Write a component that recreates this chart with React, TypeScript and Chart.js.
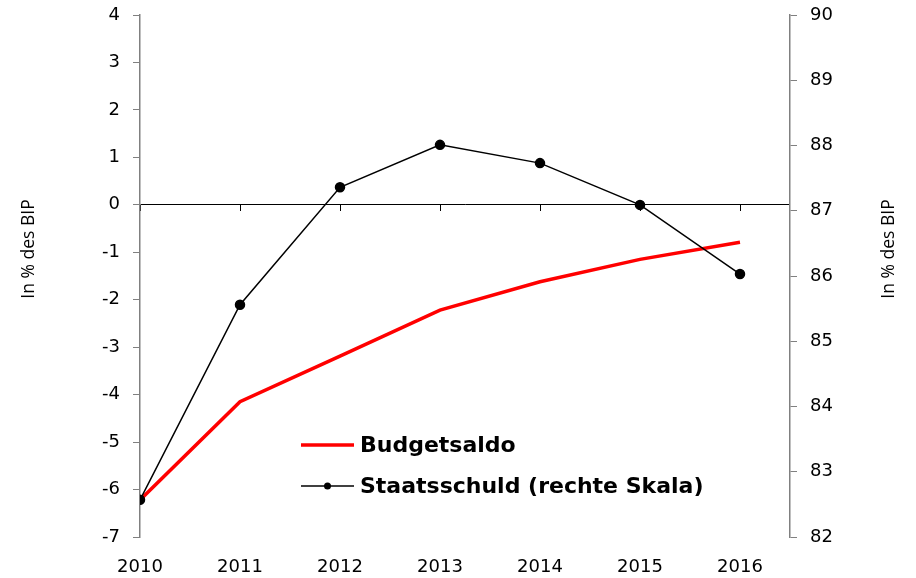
import React, { useEffect, useRef } from "react";
import { Chart, registerables } from "chart.js";

Chart.register(...registerables);

const years = [2010, 2011, 2012, 2013, 2014, 2015, 2016];
const budgetsaldo = [-6.22, -4.15, -3.19, -2.22, -1.62, -1.15, -0.79];
const staatsschuld = [82.57, 85.56, 87.36, 88.01, 87.73, 87.09, 86.03];
const seriesLabels = ["Budgetsaldo", "Staatsschuld (rechte Skala)"];
const axisTitle = "In % des BIP";

const TICK_FONT = { family: "DejaVu Sans", size: 18 };

const overlayPlugin = {
  id: "overlay",
  afterDraw(chart: any) {
    const ctx = chart.ctx;
    ctx.save();
    // axis titles
    ctx.fillStyle = "#000";
    ctx.font = "17.5px 'Open Sans'";
    ctx.textAlign = "center";
    ctx.textBaseline = "middle";
    ctx.save();
    ctx.translate(29, 249);
    ctx.rotate(-Math.PI / 2);
    ctx.fillText(axisTitle, 0, 0);
    ctx.restore();
    ctx.save();
    ctx.translate(889, 249);
    ctx.rotate(-Math.PI / 2);
    ctx.fillText(axisTitle, 0, 0);
    ctx.restore();

    // legend
    const ds = chart.data.datasets;
    ctx.font = "bold 22px 'DejaVu Sans'";
    ctx.textAlign = "left";
    const rows = [445, 486];
    rows.forEach((y, i) => {
      const d = ds[i];
      ctx.strokeStyle = d.borderColor;
      ctx.lineWidth = d.borderWidth;
      ctx.beginPath();
      ctx.moveTo(301, y);
      ctx.lineTo(354, y);
      ctx.stroke();
      if (d.pointRadius > 0) {
        ctx.fillStyle = d.pointBackgroundColor;
        ctx.beginPath();
        ctx.arc(327.5, y, d.pointRadius - 1, 0, Math.PI * 2);
        ctx.fill();
      }
      ctx.fillStyle = "#000";
      ctx.fillText(d.label, 360, y + 1);
    });
    ctx.restore();
  },
};

export default function App() {
  const ref = useRef<HTMLCanvasElement | null>(null);
  useEffect(() => {
    if (!ref.current) return;
    const chart = new Chart(ref.current, {
      type: "line",
      data: {
        datasets: [
          {
            label: seriesLabels[0],
            data: years.map((x, i) => ({ x, y: budgetsaldo[i] })),
            borderColor: "#ff0000",
            backgroundColor: "#ff0000",
            borderWidth: 3.5,
            pointRadius: 0,
            yAxisID: "y",
            tension: 0,
            order: 2,
          },
          {
            label: seriesLabels[1],
            data: years.map((x, i) => ({ x, y: staatsschuld[i] })),
            borderColor: "#000000",
            backgroundColor: "#000000",
            pointBackgroundColor: "#000000",
            pointBorderColor: "#000000",
            borderWidth: 1.5,
            pointRadius: 4.5,
            yAxisID: "y1",
            tension: 0,
            order: 1,
          },
        ],
      },
      options: {
        animation: false,
        responsive: false,
        maintainAspectRatio: false,
        layout: { padding: { top: 15, left: 0, right: 0, bottom: 0 } },
        plugins: {
          legend: { display: false },
          tooltip: { enabled: false },
        },
        scales: {
          x: {
            type: "linear",
            min: 2010,
            max: 2016.5,
            grid: { display: false },
            border: { display: false },
            ticks: {
              stepSize: 1,
              includeBounds: false,
              color: "#000",
              font: TICK_FONT,
              padding: 12,
              maxRotation: 0,
              callback: (v: any) => String(v),
            },
            afterFit: (s: any) => {
              s.height = 41;
              s.paddingLeft = 0;
              s.paddingRight = 0;
            },
          },
          xZero: {
            type: "linear",
            axis: "x",
            position: { y: 0 },
            min: 2010,
            max: 2016.5,
            grid: {
              drawOnChartArea: false,
              drawTicks: true,
              tickLength: 6,
              tickColor: "#000",
              lineWidth: 1,
            },
            border: { display: false },
            ticks: {
              display: false,
              stepSize: 1,
              includeBounds: false,
            },
          },
          y: {
            type: "linear",
            position: "left",
            min: -7,
            max: 4,
            grid: {
              color: (c: any) => (c.tick && c.tick.value === 0 ? "#000" : "rgba(0,0,0,0)"),
              tickColor: "#808080",
              lineWidth: 1,
              tickLength: 7,
              drawOnChartArea: true,
            },
            border: { color: "#808080", width: 1.5 },
            ticks: {
              stepSize: 1,
              color: "#000",
              font: TICK_FONT,
              padding: 13,
            },
            afterFit: (s: any) => {
              s.width = 140;
              s.paddingTop = 0;
              s.paddingBottom = 0;
            },
          },
          y1: {
            type: "linear",
            position: "right",
            min: 82,
            max: 90,
            grid: {
              drawOnChartArea: false,
              tickColor: "#808080",
              tickLength: 7,
            },
            border: { color: "#808080", width: 1.5 },
            ticks: {
              stepSize: 1,
              color: "#000",
              font: TICK_FONT,
              padding: 13,
            },
            afterFit: (s: any) => {
              s.width = 126;
              s.paddingTop = 0;
              s.paddingBottom = 0;
            },
          },
        },
      },
      plugins: [overlayPlugin],
    });
    return () => chart.destroy();
  }, []);
  return (
    <div style={{ position: "absolute", left: 0, top: 0, width: 916, height: 578, background: "#fff" }}>
      <canvas ref={ref} width={916} height={578} style={{ width: 916, height: 578, display: "block" }} />
    </div>
  );
}
